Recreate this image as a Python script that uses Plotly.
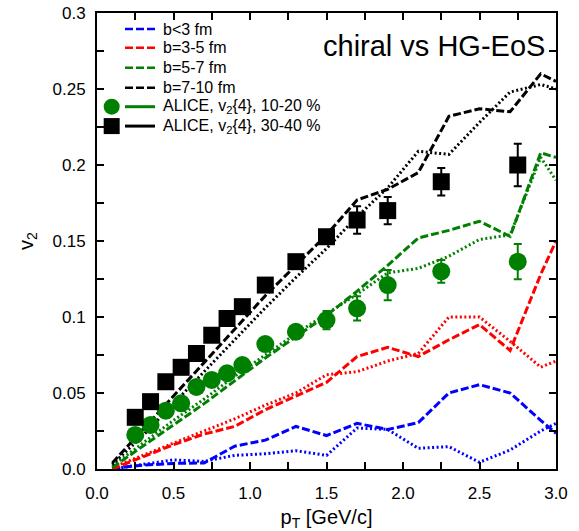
import plotly.graph_objects as go

# transverse momentum grid of the model calculations [GeV/c]
pt_model = [0.1, 0.3, 0.5, 0.7, 0.9, 1.1, 1.3, 1.5, 1.7, 1.9, 2.1, 2.3, 2.5, 2.7, 2.9, 3.0]

# chiral EoS (dashed) and HG EoS (dotted), per impact-parameter class
v2_b0_3_dash = [0.0005, 0.0025, 0.0037, 0.004, 0.015, 0.019, 0.028, 0.022, 0.030, 0.026, 0.0305, 0.050, 0.0555, 0.050, 0.032, 0.0235]
v2_b0_3_dot = [0.0, 0.003, 0.006, 0.005, 0.009, 0.010, 0.012, 0.009, 0.027, 0.026, 0.0136, 0.0147, 0.0044, 0.0125, 0.025, 0.030]
v2_b3_5_dash = [0.0, 0.008, 0.016, 0.023, 0.028, 0.039, 0.048, 0.057, 0.074, 0.080, 0.074, 0.085, 0.095, 0.078, 0.128, 0.150]
v2_b3_5_dot = [0.001, 0.009, 0.017, 0.025, 0.033, 0.042, 0.050, 0.062, 0.064, 0.071, 0.076, 0.100, 0.100, 0.084, 0.067, 0.071]
v2_b5_7_dash = [0.001, 0.015, 0.029, 0.043, 0.058, 0.073, 0.087, 0.101, 0.117, 0.134, 0.152, 0.157, 0.163, 0.153, 0.208, 0.205]
v2_b5_7_dot = [0.002, 0.017, 0.032, 0.046, 0.061, 0.075, 0.089, 0.102, 0.115, 0.129, 0.132, 0.140, 0.151, 0.154, 0.205, 0.190]
v2_b7_10_dash = [0.004, 0.026, 0.048, 0.070, 0.092, 0.114, 0.134, 0.154, 0.177, 0.184, 0.195, 0.232, 0.237, 0.235, 0.260, 0.255]
v2_b7_10_dot = [0.003, 0.022, 0.043, 0.064, 0.085, 0.106, 0.126, 0.145, 0.166, 0.185, 0.209, 0.207, 0.228, 0.248, 0.253, 0.250]

# ALICE v2{4} measurements
pt_alice = [0.25, 0.35, 0.45, 0.55, 0.65, 0.75, 0.85, 0.95, 1.1, 1.3, 1.5, 1.7, 1.9, 2.25, 2.75]
v2_alice_10_20 = [0.0224, 0.029, 0.0384, 0.0432, 0.054, 0.0586, 0.063, 0.0684, 0.0822, 0.0903, 0.098, 0.1057, 0.121, 0.130, 0.1364]
err_alice_10_20 = [0.001, 0.001, 0.001, 0.001, 0.001, 0.001, 0.002, 0.002, 0.003, 0.004, 0.006, 0.008, 0.010, 0.0075, 0.0116]
v2_alice_30_40 = [0.034, 0.0443, 0.0574, 0.0669, 0.076, 0.088, 0.099, 0.1068, 0.121, 0.1364, 0.1528, 0.1638, 0.170, 0.189, 0.200]
err_alice_30_40 = [0.001, 0.001, 0.001, 0.001, 0.001, 0.001, 0.002, 0.002, 0.003, 0.003, 0.004, 0.009, 0.009, 0.009, 0.014]

legend_labels = ["b<3 fm", "b=3-5 fm", "b=5-7 fm", "b=7-10 fm",
                 "ALICE, v<sub>2</sub>{4}, 10-20 %", "ALICE, v<sub>2</sub>{4}, 30-40 %"]

BLUE, RED, GREEN, BLACK = "#0000ff", "#ff0000", "#008000", "#000000"
FONT = "Liberation Sans, Arial, Helvetica, sans-serif"
DASH = "8px,3px"
DOT = "2px,2.5px"

fig = go.Figure()

model = [
    (v2_b0_3_dash, v2_b0_3_dot, BLUE),
    (v2_b3_5_dash, v2_b3_5_dot, RED),
    (v2_b5_7_dash, v2_b5_7_dot, GREEN),
    (v2_b7_10_dash, v2_b7_10_dot, BLACK),
]
for dash_vals, dot_vals, col in model:
    fig.add_trace(go.Scatter(x=pt_model, y=dot_vals, mode="lines",
                             line=dict(color=col, width=3, dash=DOT),
                             showlegend=False, hoverinfo="skip"))
    fig.add_trace(go.Scatter(x=pt_model, y=dash_vals, mode="lines",
                             line=dict(color=col, width=3, dash=DASH),
                             showlegend=False, hoverinfo="skip"))

fig.add_trace(go.Scatter(
    x=pt_alice, y=v2_alice_10_20, mode="markers",
    marker=dict(symbol="circle", size=18, color=GREEN),
    error_y=dict(type="data", array=err_alice_10_20, color=GREEN, thickness=2, width=4),
    showlegend=False))
fig.add_trace(go.Scatter(
    x=pt_alice, y=v2_alice_30_40, mode="markers",
    marker=dict(symbol="square", size=17, color=BLACK),
    error_y=dict(type="data", array=err_alice_30_40, color=BLACK, thickness=2, width=4),
    showlegend=False))

# hand-built key in the upper-left corner of the frame
key_rows = [0.9649, 0.924, 0.880, 0.836, 0.7945, 0.752]
key_styles = [(BLUE, DASH, None), (RED, DASH, None), (GREEN, DASH, None), (BLACK, DASH, None),
              (GREEN, "solid", "circle"), (BLACK, "solid", "square")]
shapes = []
annotations = []
for yk, (col, dash, sym), label in zip(key_rows, key_styles, legend_labels):
    shapes.append(dict(type="line", xref="paper", yref="paper",
                       x0=0.061, x1=0.1264, y0=yk, y1=yk,
                       line=dict(color=col, width=2.5 if dash != "solid" else 3, dash=dash)))
    if sym is not None:
        shapes.append(dict(type="circle" if sym == "circle" else "rect",
                           xref="paper", yref="paper",
                           xsizemode="pixel", ysizemode="pixel",
                           xanchor=0.032, yanchor=yk,
                           x0=-8, x1=8, y0=-8, y1=8,
                           fillcolor=col, line=dict(width=0)))
    annotations.append(dict(xref="paper", yref="paper", x=0.1394, y=yk,
                            xanchor="left", yanchor="middle", showarrow=False,
                            text=label, font=dict(family=FONT, size=16, color="black")))

annotations.append(dict(xref="paper", yref="paper", x=0.980, y=0.927,
                        xanchor="right", yanchor="middle", showarrow=False,
                        text="chiral vs HG-EoS",
                        font=dict(family=FONT, size=29, color="black")))

y_ticks = [0.0, 0.05, 0.1, 0.15, 0.2, 0.25, 0.3]
y_tick_text = ["0.0", "0.05", "0.1", "0.15", "0.2", "0.25", "0.3"]

axis_common = dict(showgrid=False, zeroline=False, showline=True, linecolor="black",
                   linewidth=2, mirror="ticks", ticks="inside", ticklen=7,
                   tickwidth=1.5, tickcolor="black", automargin=False,
                   tickfont=dict(family=FONT, size=17, color="black"))

fig.update_layout(
    width=579, height=531,
    margin=dict(l=97, r=23, t=13, b=62),
    paper_bgcolor="white", plot_bgcolor="white",
    shapes=shapes, annotations=annotations,
    xaxis=dict(range=[0, 3], tickvals=[0, 0.5, 1, 1.5, 2, 2.5, 3],
               tickformat=".1f",
               minor=dict(dtick=0.25, ticks="inside", ticklen=7, tickcolor="black", tickwidth=1.5),
               title=dict(text="p<sub>T</sub> [GeV/c]", font=dict(family=FONT, size=20, color="black"),
                          standoff=9),
               ticklabelstandoff=8,
               **axis_common),
    yaxis=dict(range=[0, 0.3], tickvals=y_ticks, ticktext=y_tick_text,
               minor=dict(dtick=0.025, ticks="inside", ticklen=7, tickcolor="black", tickwidth=1.5),
               title=dict(text="v<sub>2</sub>", font=dict(family=FONT, size=20, color="black"),
                          standoff=14),
               ticklabelstandoff=6,
               **axis_common),
)

fig.write_html("out.html")
